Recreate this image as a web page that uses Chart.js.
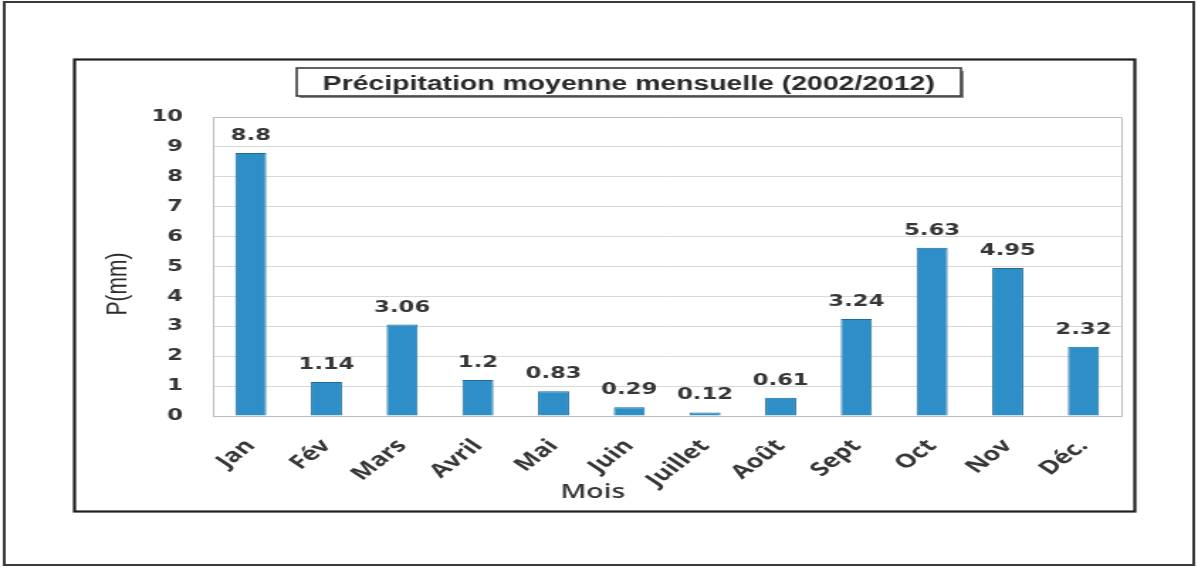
<!DOCTYPE html>
<html>
<head>
<meta charset="utf-8">
<script src="https://cdn.jsdelivr.net/npm/chart.js@4.4.1/dist/chart.umd.min.js"></script>
<style>
  html, body { margin: 0; padding: 0; background: #ffffff; overflow: hidden; }
  /* the figure is laid out narrow and widened horizontally */
  #wrap { position: absolute; left: 0; top: 0; width: 844px; height: 567px;
          transform: scaleX(1.4194); transform-origin: 0 0; }
</style>
</head>
<body>
<div id="wrap"><canvas id="c"></canvas></div>
<script>
// Monthly mean precipitation, 2002-2012
const months = ['Jan', 'Fév', 'Mars', 'Avril', 'Mai', 'Juin', 'Juillet', 'Août', 'Sept', 'Oct', 'Nov', 'Déc.'];
const precipitation = [8.8, 1.14, 3.06, 1.2, 0.83, 0.29, 0.12, 0.61, 3.24, 5.63, 4.95, 2.32];
const yMin = 0;
const yMax = 10;
const yStep = 1;
const chartTitle = 'Précipitation moyenne mensuelle (2002/2012)';
const yAxisTitle = 'P(mm)';
const xAxisTitle = 'Mois';

const TEXT = '#363636';

// Page frames, title box, plot border, value labels and axis titles
const decorations = {
  id: 'decorations',
  beforeDraw(chart) {
    const ctx = chart.ctx;
    const W = chart.width, H = chart.height;
    ctx.save();
    ctx.fillStyle = '#ffffff';
    ctx.fillRect(0, 0, W, H);
    // outer frame
    ctx.strokeStyle = '#3a3a3a';
    ctx.lineWidth = 2;
    ctx.strokeRect(3, 2, W - 6, H - 4);
    // inner chart frame
    ctx.strokeStyle = '#1e1e1e';
    ctx.lineWidth = 2.2;
    ctx.strokeRect(52.5, 59.5, 747, 452);
    // title box with a light shadow
    ctx.fillStyle = '#8a8a8a';
    ctx.fillRect(211, 71, 468, 27);
    ctx.fillStyle = '#ffffff';
    ctx.fillRect(209, 68, 468, 28);
    ctx.strokeStyle = '#3c3c3c';
    ctx.lineWidth = 1.6;
    ctx.strokeRect(209, 68, 468, 28);
    ctx.restore();
  },
  afterDraw(chart) {
    const ctx = chart.ctx;
    const area = chart.chartArea;
    ctx.save();
    // plot area outline (top and right)
    ctx.strokeStyle = '#bcbcbc';
    ctx.lineWidth = 1;
    ctx.beginPath();
    ctx.moveTo(area.left, area.top + 0.5);
    ctx.lineTo(area.right + 0.5, area.top + 0.5);
    ctx.lineTo(area.right + 0.5, area.bottom);
    ctx.stroke();

    // chart title
    ctx.fillStyle = '#2a2a2a';
    ctx.font = 'bold 20px "Liberation Sans", Arial, sans-serif';
    ctx.textAlign = 'center';
    ctx.textBaseline = 'alphabetic';
    ctx.fillText(chartTitle, 443, 90);

    // value labels above each bar
    const meta = chart.getDatasetMeta(0);
    ctx.font = 'bold 16px "DejaVu Sans", Verdana, sans-serif';
    ctx.fillStyle = TEXT;
    meta.data.forEach((bar, i) => {
      ctx.fillText(String(chart.data.datasets[0].data[i]), bar.x, bar.y - 13);
    });

    // axis titles
    ctx.font = '21px "Liberation Sans", Arial, sans-serif';
    ctx.fillStyle = '#2a2a2a';
    ctx.save();
    ctx.translate(83, 284);
    ctx.rotate(-Math.PI / 2);
    ctx.textBaseline = 'middle';
    ctx.fillText(yAxisTitle, 0, 0);
    ctx.restore();

    ctx.font = '600 20px "Open Sans", sans-serif';
    ctx.fillStyle = TEXT;
    ctx.textBaseline = 'alphabetic';
    ctx.fillText(xAxisTitle, 417.6, 498);
    ctx.restore();
  }
};

new Chart(document.getElementById('c'), {
  type: 'bar',
  data: {
    labels: months,
    datasets: [{
      data: precipitation,
      backgroundColor: '#2e8fc8',
      borderColor: '#1d6b9c',
      borderWidth: 1,
      barPercentage: 0.41,
      categoryPercentage: 1.0
    }]
  },
  options: {
    responsive: true,
    maintainAspectRatio: false,
    animation: false,
    layout: { padding: { left: 90, right: 54, top: 117, bottom: 76 } },
    plugins: {
      legend: { display: false },
      title: { display: false },
      tooltip: { enabled: false }
    },
    scales: {
      x: {
        grid: { display: false, drawTicks: false },
        border: { display: true, color: '#bcbcbc', width: 1 },
        ticks: {
          autoSkip: false, minRotation: 47, maxRotation: 47, padding: 19,
          color: TEXT,
          font: { family: '"Open Sans", sans-serif', weight: 'bold', size: 19 }
        },
        afterFit(scale) { scale.height = 75; }
      },
      y: {
        min: yMin, max: yMax,
        grid: { color: '#d8d8d8', drawTicks: false },
        border: { display: true, color: '#bcbcbc', width: 1 },
        ticks: {
          stepSize: yStep, padding: 21, color: TEXT,
          font: { family: '"DejaVu Sans", Verdana, sans-serif', weight: 'bold', size: 16 }
        },
        afterFit(scale) { scale.width = 60; }
      }
    }
  },
  plugins: [decorations]
});
</script>
</body>
</html>
